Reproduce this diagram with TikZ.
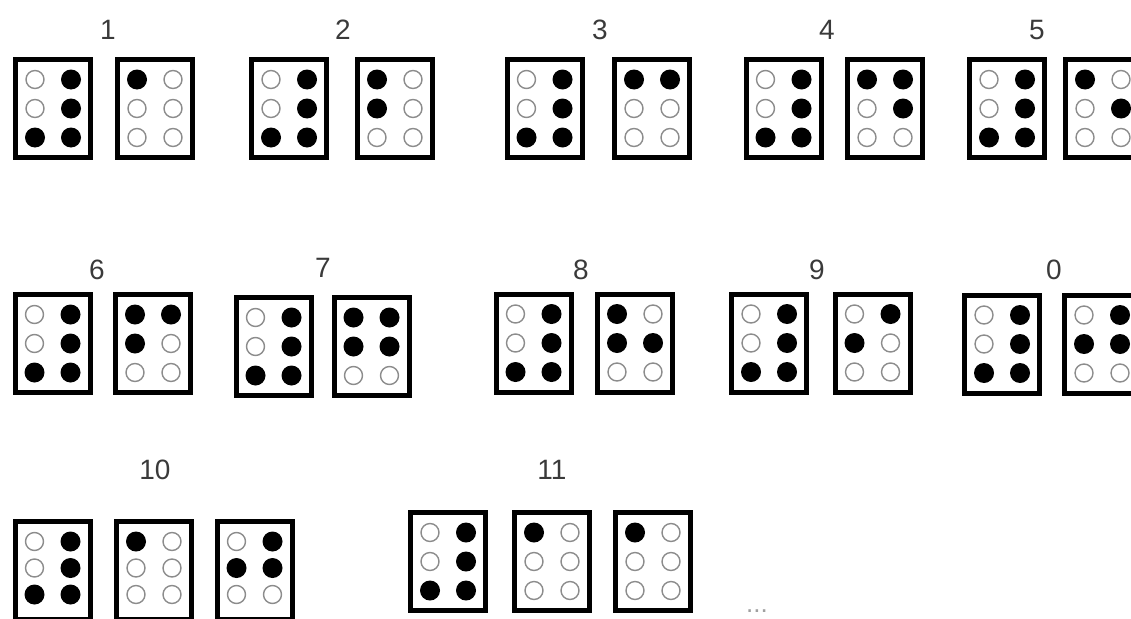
\documentclass[tikz,border=0pt]{standalone}
\usepackage{fontspec}
\setmainfont{Liberation Sans}
\usepackage{xcolor}
\usepackage{tikz}
\usetikzlibrary{positioning,calc}
\definecolor{ink}{HTML}{3A3A3A}
\definecolor{dotgray}{HTML}{8C8C8C}
\definecolor{faintgray}{HTML}{A0A0A0}
\tikzset{
  cellbox/.style={draw=black,line width=5pt,rectangle,minimum width=75pt,minimum height=98pt,inner sep=0pt},
  numlabel/.style={text=ink,font=\fontsize{28}{30}\selectfont,inner sep=0pt},
  fulldot/.style={fill=black},
  emptydot/.style={draw=dotgray,line width=1.4pt,fill=white}
}
% [#1 row pitch] #2 name, #3 x, #4 y, #5 six dots row by row (1 = raised)
\newcommand{\brl}[5][29]{%
  \node[cellbox] (#2) at (#3,#4) {};
  \foreach \d [count=\i from 0] in {#5} {
    \pgfmathsetmacro{\dx}{-18+36*mod(\i,2)}
    \pgfmathsetmacro{\dy}{-29+#1*div(\i,2)}
    \ifnum\d=1
      \path[fulldot] ([shift={(\dx,\dy)}]#2.center) circle[radius=10pt];
    \else
      \path[emptydot] ([shift={(\dx,\dy)}]#2.center) circle[radius=9pt];
    \fi
  }}

\begin{document}
\begin{tikzpicture}[x=1pt,y=-1pt]
\useasboundingbox (0,0) rectangle (1131,618);
\clip (0,0) rectangle (1131,618);
% first row: 1 to 5
\brl{oneA}{53}{108.5}{0,1,0,1,1,1} \brl{oneB}{155}{108.5}{1,0,0,0,0,0}
\brl{twoA}{289}{108.5}{0,1,0,1,1,1} \brl{twoB}{395}{108.5}{1,0,1,0,0,0}
\brl{threeA}{544.5}{108.5}{0,1,0,1,1,1} \brl{threeB}{652}{108.5}{1,1,0,0,0,0}
\brl{fourA}{783.5}{108.5}{0,1,0,1,1,1} \brl{fourB}{885}{108.5}{1,1,0,1,0,0}
\brl{fiveA}{1007}{108.5}{0,1,0,1,1,1} \brl{fiveB}{1103}{108.5}{1,0,0,1,0,0}
\node[numlabel] (lone) at (108,30) {1};
\node[numlabel] (ltwo) at (343,30) {2};
\node[numlabel] (lthree) at (600,30) {3};
\node[numlabel] (lfour) at (827,30) {4};
\node[numlabel] (lfive) at (1037,30) {5};
% second row: 6 to 0
\brl{sixA}{52.5}{343.5}{0,1,0,1,1,1} \brl{sixB}{153}{343.5}{1,1,1,0,0,0}
\brl{sevenA}{273.5}{346.5}{0,1,0,1,1,1} \brl{sevenB}{371.5}{346.5}{1,1,1,1,0,0}
\brl{eightA}{533.5}{343}{0,1,0,1,1,1} \brl{eightB}{635}{343}{1,0,1,1,0,0}
\brl{nineA}{769}{343}{0,1,0,1,1,1} \brl{nineB}{872.5}{343}{0,1,1,0,0,0}
\brl{zeroA}{1002}{344}{0,1,0,1,1,1} \brl{zeroB}{1102}{344}{0,1,1,1,0,0}
\node[numlabel] (lsix) at (97,270) {6};
\node[numlabel] (lseven) at (323,268) {7};
\node[numlabel] (leight) at (581,270) {8};
\node[numlabel] (lnine) at (817,270) {9};
\node[numlabel] (lzero) at (1054,270) {0};
% third row: 10, 11
\brl[26.5]{tenA}{52.5}{570.5}{0,1,0,1,1,1} \brl[26.5]{tenB}{154}{570.5}{1,0,0,0,0,0} \brl[26.5]{tenC}{254.5}{570.5}{0,1,1,1,0,0}
\brl{elevenA}{448}{561.5}{0,1,0,1,1,1} \brl{elevenB}{552}{561.5}{1,0,0,0,0,0} \brl{elevenC}{653}{561.5}{1,0,0,0,0,0}
\node[numlabel] (lten) at (155,470) {10};
\node[numlabel] (leleven) at (552,470) {11};
\node[text=faintgray,font=\fontsize{26}{28}\selectfont,inner sep=0pt,anchor=base] (more) at (757,612) {...};
\end{tikzpicture}
\end{document}
